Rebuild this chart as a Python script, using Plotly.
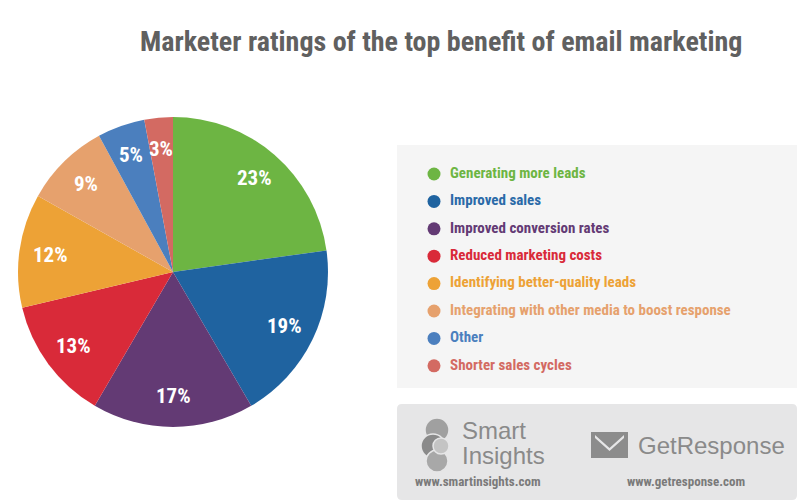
import math
import plotly.graph_objects as go

W, H = 800, 503

categories = [
    "Generating more leads",
    "Improved sales",
    "Improved conversion rates",
    "Reduced marketing costs",
    "Identifying better-quality leads",
    "Integrating with other media to boost response",
    "Other",
    "Shorter sales cycles",
]
values = [23, 19, 17, 13, 12, 9, 5, 3]
colors = ["#6db543", "#1f63a0", "#633a74", "#d92a39", "#eda236", "#e6a16d", "#4b7fbe", "#d36a62"]
text_colors = ["#6db543", "#2a6aa8", "#633a74", "#d92a39", "#eda236", "#e6a16d", "#4b7fbe", "#d36a62"]
label_text = [f"{v}%" for v in values]
legend_index = list(range(len(categories)))

def px(x):
    return x / W

def py(y):
    return 1 - y / H

COND = "Roboto Condensed, Liberation Sans Narrow, Arial Narrow, Liberation Sans, sans-serif"

PIE_L, PIE_R, PIE_T, PIE_B = 18, 328, 117, 427
CX, CY, RAD = (PIE_L + PIE_R) / 2, (PIE_T + PIE_B) / 2, (PIE_R - PIE_L) / 2

fig = go.Figure()

fig.add_trace(go.Pie(
    labels=categories,
    values=values,
    sort=False,
    direction="clockwise",
    rotation=0,
    marker=dict(colors=colors, line=dict(width=0)),
    textinfo="none",
    domain=dict(x=[px(PIE_L), px(PIE_R)], y=[py(PIE_B), py(PIE_T)]),
    showlegend=False,
    hoverinfo="label+percent",
))

fig.add_trace(go.Scatter(
    x=[0] * len(categories),
    y=legend_index,
    mode="markers+text",
    marker=dict(size=13, color=colors, symbol="circle"),
    text=["  " + c for c in categories],
    textposition="middle right",
    textfont=dict(family=COND, size=15, color=text_colors, weight="bold"),
    xaxis="x", yaxis="y",
    showlegend=False,
    hoverinfo="skip",
))

leg_top, leg_bot = 145, 388
row_h = 27.4
first_row = 174 - leg_top
fig.update_layout(
    width=W, height=H,
    margin=dict(l=0, r=0, t=0, b=0),
    paper_bgcolor="white",
    plot_bgcolor="rgba(0,0,0,0)",
    xaxis=dict(domain=[px(397), px(797)], range=[-37, 363], visible=False, fixedrange=True),
    yaxis=dict(domain=[py(leg_bot), py(leg_top)],
               range=[(leg_bot - leg_top - first_row) / row_h, -first_row / row_h],
               visible=False, fixedrange=True),
    showlegend=False,
)

shapes = []
shapes.append(dict(type="rect", xref="paper", yref="paper",
                   x0=px(397), x1=px(797), y0=py(388), y1=py(145),
                   fillcolor="#f5f5f5", line=dict(width=0), layer="below"))
x0, x1, y0, y1, r = 397, 797, 404, 500, 5
path = (f"M {px(x0 + r)} {py(y0)} L {px(x1 - r)} {py(y0)} Q {px(x1)} {py(y0)} {px(x1)} {py(y0 + r)} "
        f"L {px(x1)} {py(y1 - r)} Q {px(x1)} {py(y1)} {px(x1 - r)} {py(y1)} "
        f"L {px(x0 + r)} {py(y1)} Q {px(x0)} {py(y1)} {px(x0)} {py(y1 - r)} "
        f"L {px(x0)} {py(y0 + r)} Q {px(x0)} {py(y0)} {px(x0 + r)} {py(y0)} Z")
shapes.append(dict(type="path", xref="paper", yref="paper", path=path,
                   fillcolor="#e6e6e7", line=dict(width=0), layer="below"))

for (cx, cy, rr, col) in [(437, 430, 12, "#a0a0a0"), (433, 446, 12, "#8a8a8a"), (437, 461, 11, "#a8a8a8"),
                          (441, 446, 8, "#c4c4c4")]:
    shapes.append(dict(type="circle", xref="paper", yref="paper",
                       x0=px(cx - rr), x1=px(cx + rr), y0=py(cy + rr), y1=py(cy - rr),
                       fillcolor=col, line=dict(color="#e6e6e7", width=1.5)))
shapes.append(dict(type="rect", xref="paper", yref="paper",
                   x0=px(591), x1=px(628), y0=py(458), y1=py(432),
                   fillcolor="#8c8c8c", line=dict(width=0)))
shapes.append(dict(type="path", xref="paper", yref="paper",
                   path=(f"M {px(595)} {py(435)} L {px(609.5)} {py(448)} L {px(624)} {py(435)} "
                         f"L {px(624)} {py(438)} L {px(609.5)} {py(451)} L {px(595)} {py(438)} Z"),
                   fillcolor="#e6e6e7", line=dict(width=0)))
fig.update_layout(shapes=shapes)

ann = []
ann.append(dict(text="<b>Marketer ratings of the top benefit of email marketing</b>",
                x=px(441), y=py(42), xref="paper", yref="paper", showarrow=False,
                xanchor="center", yanchor="middle",
                font=dict(family=COND, size=28, color="#606060")))

total = sum(values)
cum = 0
for v, t in zip(values, label_text):
    mid = (cum + v / 2) / total * 2 * math.pi
    cum += v
    lx = CX + 0.8 * RAD * math.sin(mid)
    ly = CY - 0.8 * RAD * math.cos(mid)
    ann.append(dict(text=f"<b>{t}</b>", x=px(lx), y=py(ly), xref="paper", yref="paper",
                    showarrow=False, xanchor="center", yanchor="middle",
                    font=dict(family=COND, size=21, color="white")))

ann.append(dict(text="Smart", x=px(460), y=py(430), xref="paper", yref="paper", showarrow=False,
                xanchor="left", yanchor="middle", font=dict(family="Liberation Sans, Arial", size=24, color="#8a8a8a")))
ann.append(dict(text="Insights", x=px(460), y=py(455), xref="paper", yref="paper", showarrow=False,
                xanchor="left", yanchor="middle", font=dict(family="Liberation Sans, Arial", size=24, color="#8a8a8a")))
ann.append(dict(text="<b>www.smartinsights.com</b>", x=px(478), y=py(481), xref="paper", yref="paper", showarrow=False,
                xanchor="center", yanchor="middle", font=dict(family=COND, size=13, color="#7a7a7a")))
ann.append(dict(text="GetResponse", x=px(636), y=py(445), xref="paper", yref="paper", showarrow=False,
                xanchor="left", yanchor="middle", font=dict(family="Liberation Sans, Arial", size=24, color="#8a8a8a")))
ann.append(dict(text="<b>www.getresponse.com</b>", x=px(686), y=py(481), xref="paper", yref="paper", showarrow=False,
                xanchor="center", yanchor="middle", font=dict(family=COND, size=13, color="#7a7a7a")))
fig.update_layout(annotations=ann)

fig.write_html("out.html", config={"displayModeBar": False},
               post_script="document.body.style.margin='0px';")
